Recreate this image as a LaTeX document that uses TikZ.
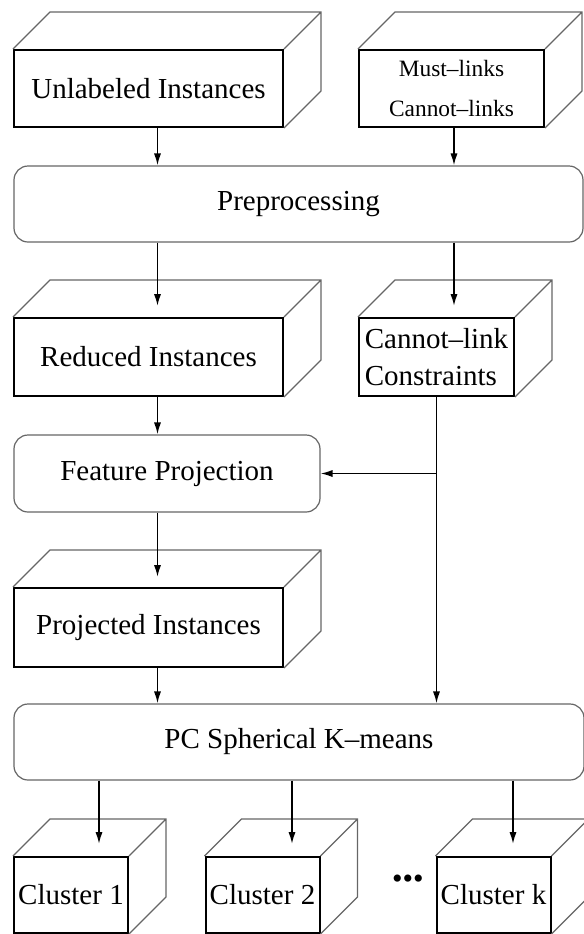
\documentclass[tikz,border=0pt]{standalone}
\usepackage{fontspec}
\setmainfont{Liberation Serif}
\usetikzlibrary{calc,arrows.meta}

\begin{document}
\begin{tikzpicture}[x=0.5pt, y=-0.5pt]
 \tikzstyle{bloc}=[rectangle, draw, line width=1pt, inner sep=0pt, minimum height=38.5pt, align=center, font=\fontsize{14.5}{18.5}\selectfont]
 \tikzstyle{etape}=[rectangle, rounded corners=7pt, draw=black!60, line width=0.6pt, inner sep=0pt, minimum height=38pt, font=\fontsize{14.5}{18.5}\selectfont]
 \tikzstyle{dos}=[draw=black!60, line width=0.6pt]
 \tikzstyle{estun}=[->, >={Latex[length=6pt, width=3.6pt]}, line width=0.8pt]
 \useasboundingbox (0,0) rectangle (584,934);
 %
 \node[bloc, minimum width=134.5pt] (UI) at (148.5, 88.5) {Unlabeled Instances};
 \node[bloc, minimum width=92.5pt, font=\fontsize{11.7}{20}\selectfont] (ML) at (451.5, 88.5) {Must--links\\Cannot--links};
 \node[etape, minimum width=284.5pt] (PP) at (298.5, 204) {Preprocessing};
 %
 \node[bloc, minimum width=134.5pt, minimum height=39pt] (RI) at (148.5, 357) {Reduced Instances};
 \node[bloc, minimum width=77.5pt, minimum height=39pt, align=left] (CL) at (436.5, 357) {Cannot--link\\Constraints};
 \node[etape, minimum width=153pt, minimum height=38.5pt] (FP) at (167, 473.5) {Feature Projection};
 \node[bloc, minimum width=134.5pt, minimum height=39.5pt] (PI) at (148.5, 627.5) {Projected Instances};
 \node[etape, minimum width=285pt] (PC) at (299, 742) {PC Spherical K--means};
 %
 \node[bloc, minimum width=57pt, minimum height=38pt] (C1) at (71, 895) {Cluster 1};
 \node[bloc, minimum width=57pt, minimum height=38pt] (C2) at (262.5, 895) {Cluster 2};
 \node[bloc, minimum width=57pt, minimum height=38pt] (Ck) at (493.5, 895) {Cluster k};
 \node[font=\fontsize{15}{15}\selectfont] (dots) at (408, 882) {•••};
 %% back faces
 \foreach \n in {UI, ML, RI, CL, PI, C1, C2, Ck}
  \draw[dos] (\n.north west) -- ++(37,-37) -- ($(\n.north east)+(37,-37)$) -- ($(\n.south east)+(37,-37)$) -- (\n.south east)
   (\n.north east) -- ++(37,-37);
 %% arrows
 \draw[estun] ($(UI.south)+(9,0)$) -- ($(UI.south |- PP.north)+(9,0)$);
 \draw[estun] ($(ML.south)+(2.5,0)$) -- ($(ML.south |- PP.north)+(2.5,0)$);
 \draw[estun] ($(RI.north |- PP.south)+(9,0)$) -- ($(RI.north)+(9,-11)$);
 \draw[estun] ($(CL.north |- PP.south)+(17.5,0)$) -- ($(CL.north)+(17.5,-11)$);
 \draw[estun] ($(RI.south)+(9,0)$) -- ($(RI.south |- FP.north)+(9,0)$);
 \draw[estun] (CL.south) -- (CL.south |- PC.north);
 \draw[estun] (CL.south |- FP.east) -- (FP.east);
 \draw[estun] ($(PI.north |- FP.south)+(9,0)$) -- ($(PI.north)+(9,-10)$);
 \draw[estun] ($(PI.south)+(9,0)$) -- ($(PI.south |- PC.north)+(9,0)$);
 \foreach \c/\d in {C1/28, C2/29.5, Ck/19.5}
  \draw[estun] ($(\c.north |- PC.south)+(\d,0)$) -- ($(\c.north)+(\d,-12)$);
\end{tikzpicture}
\end{document}
